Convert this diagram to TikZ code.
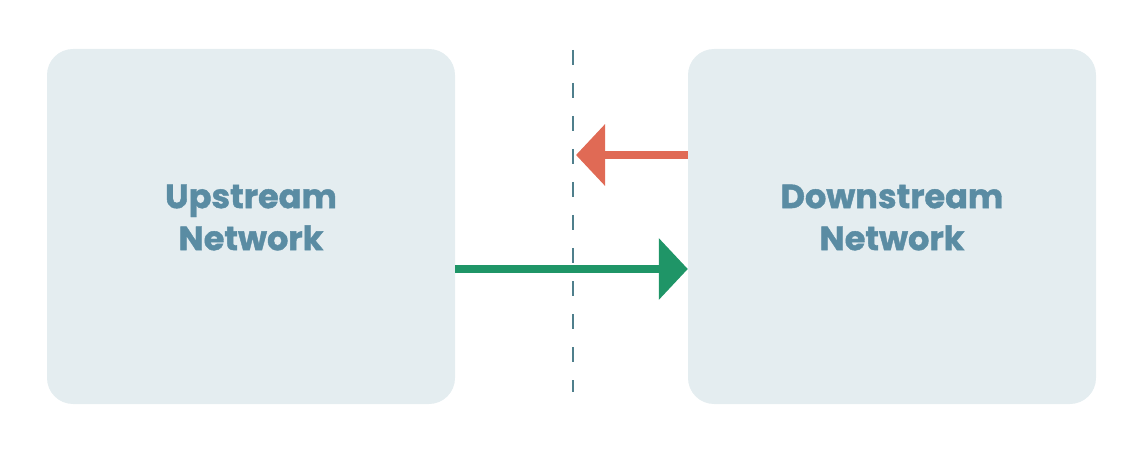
\documentclass[tikz,border=0pt]{standalone}
\usepackage{fontspec}
\setmainfont{Poppins}[BoldFeatures={FakeBold=1.2}]
\usetikzlibrary{arrows.meta}
\definecolor{boxfill}{HTML}{E4EDF0}
\definecolor{boxtext}{HTML}{5A8CA3}
\definecolor{redarr}{HTML}{E06A55}
\definecolor{greenarr}{HTML}{1F9567}
\definecolor{dashc}{HTML}{4F7F8C}
\begin{document}
\begin{tikzpicture}[x=1pt,y=1pt,
  netbox/.style={fill=boxfill, draw=none, rounded corners=26pt, minimum width=408pt, minimum height=355pt, inner sep=0pt},
  netlabel/.style={text=boxtext, font=\fontsize{33.5}{42}\selectfont\bfseries, align=center},
  flow/.style={line width=8pt, -{Triangle[length=29pt,width=60pt]}}]
\useasboundingbox (0,0) rectangle (1140,461);
\node[netbox] (up) at (251,234.5) {};
\node[netbox] (down) at (892,234.5) {};
\node[netlabel] (uplab) at (251,243.5) {Upstream\\Network};
\node[netlabel] (downlab) at (892,243.5) {Downstream\\Network};
\coordinate (dtop) at (573,411);
\coordinate (dbot) at (573,69);
\draw[dashc, line width=2.2pt, dash pattern=on 15pt off 18pt] (dtop) -- (dbot);
\coordinate (rtip) at (576,306);
\draw[flow, redarr] (down.west |- rtip) -- (rtip);
\coordinate (gy) at (0,192);
\draw[flow, greenarr] (up.east |- gy) -- (down.west |- gy);
\end{tikzpicture}
\end{document}
